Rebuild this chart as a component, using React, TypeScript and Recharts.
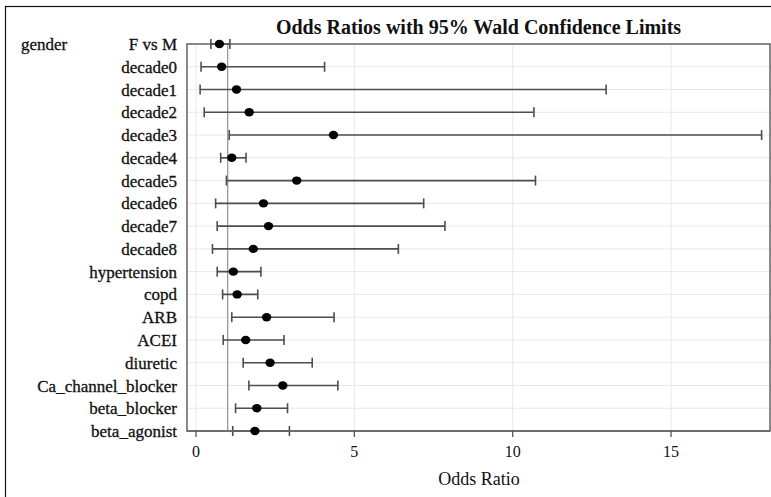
import React from "react";
import {
  ComposedChart,
  Scatter,
  ErrorBar,
  XAxis,
  YAxis,
  CartesianGrid,
  ReferenceLine,
  ReferenceArea,
} from "recharts";

const categories = [
  "F vs M",
  "decade0",
  "decade1",
  "decade2",
  "decade3",
  "decade4",
  "decade5",
  "decade6",
  "decade7",
  "decade8",
  "hypertension",
  "copd",
  "ARB",
  "ACEI",
  "diuretic",
  "Ca_channel_blocker",
  "beta_blocker",
  "beta_agonist",
];
const groupLabels = ["gender", "", "", "", "", "", "", "", "", "", "", "", "", "", "", "", "", ""];
const oddsRatios = [0.74, 0.81, 1.28, 1.68, 4.34, 1.13, 3.18, 2.13, 2.29, 1.81, 1.18, 1.3, 2.23, 1.57, 2.34, 2.74, 1.92, 1.86];
const lowerLimits = [0.47, 0.16, 0.13, 0.26, 1.05, 0.78, 0.96, 0.62, 0.67, 0.52, 0.67, 0.84, 1.13, 0.86, 1.49, 1.67, 1.25, 1.16];
const upperLimits = [1.07, 4.06, 12.95, 10.67, 17.86, 1.58, 10.72, 7.19, 7.86, 6.39, 2.05, 1.95, 4.36, 2.78, 3.67, 4.48, 2.89, 2.95];
const xTicks = [0, 5, 10, 15];
const xDomain: [number, number] = [-0.284, 18.125];
const referenceValue = 1;

const data = categories.map((name, i) => ({
  name,
  group: groupLabels[i],
  or: oddsRatios[i],
  err: [oddsRatios[i] - lowerLimits[i], upperLimits[i] - oddsRatios[i]],
}));

const FONT = "'Liberation Serif', 'Times New Roman', serif";

const CategoryTick = (props: any) => {
  const { x, y, payload, index } = props;
  const group = groupLabels[index];
  return (
    <g>
      <text x={x} y={y} dy="0.355em" textAnchor="end" fontFamily={FONT} fontSize={17} fill="#111" stroke="#111" strokeWidth={0.3}>
        {payload.value}
      </text>
      {group ? (
        <text x={21} y={y} dy="0.355em" textAnchor="start" fontFamily={FONT} fontSize={17} fill="#111" stroke="#111" strokeWidth={0.3}>
          {group}
        </text>
      ) : null}
    </g>
  );
};

const Dot = (props: any) => {
  const { cx, cy } = props;
  return <ellipse cx={cx} cy={cy} rx={4.7} ry={4.2} fill="#000" />;
};

export default function App() {
  return (
    <div style={{ position: "absolute", left: 0, top: 0, width: 771, height: 497, overflow: "hidden", background: "#fff" }}>
      <ComposedChart
        width={771}
        height={497}
        data={data}
        layout="vertical"
        margin={{ top: 44, right: 1, bottom: 26, left: 0 }}
      >
        <CartesianGrid stroke="#e8e8e8" strokeWidth={1} />
        <XAxis
          type="number"
          dataKey="or"
          domain={xDomain}
          ticks={xTicks}
          allowDataOverflow
          height={40}
          axisLine={{ stroke: "#666", strokeWidth: 1.5 }}
          tickLine={{ stroke: "#555", strokeWidth: 1.3 }}
          tickSize={6}
          tickMargin={9}
          tick={{ fontFamily: FONT, fontSize: 16, fill: "#111" }}
        />
        <YAxis
          type="category"
          dataKey="name"
          width={187}
          axisLine={false}
          tickLine={false}
          tickSize={0}
          tickMargin={10}
          interval={0}
          tick={<CategoryTick />}
        />
        <ReferenceArea
          x1={xDomain[0]}
          x2={xDomain[1]}
          fill="none"
          stroke="#666"
          strokeWidth={1.5}
          ifOverflow="visible"
        />
        <ReferenceLine x={referenceValue} stroke="#9a9a9a" strokeWidth={1.3} />
        <Scatter dataKey="or" shape={<Dot />} isAnimationActive={false}>
          <ErrorBar dataKey="err" direction="x" width={5} stroke="#4d4d4d" strokeWidth={1.6} />
        </Scatter>
      </ComposedChart>
      <svg
        width={771}
        height={497}
        style={{ position: "absolute", left: 0, top: 0, pointerEvents: "none" }}
      >
        <rect x={5.5} y={6.5} width={900} height={700} fill="none" stroke="#111" strokeWidth={1.2} />
        <text x={478.5} y={34} textAnchor="middle" fontFamily={FONT} fontSize={20} fontWeight="bold" fill="#111">
          Odds Ratios with 95% Wald Confidence Limits
        </text>
        <text x={479} y={485} textAnchor="middle" fontFamily={FONT} fontSize={18} fill="#111">
          Odds Ratio
        </text>
      </svg>
    </div>
  );
}
